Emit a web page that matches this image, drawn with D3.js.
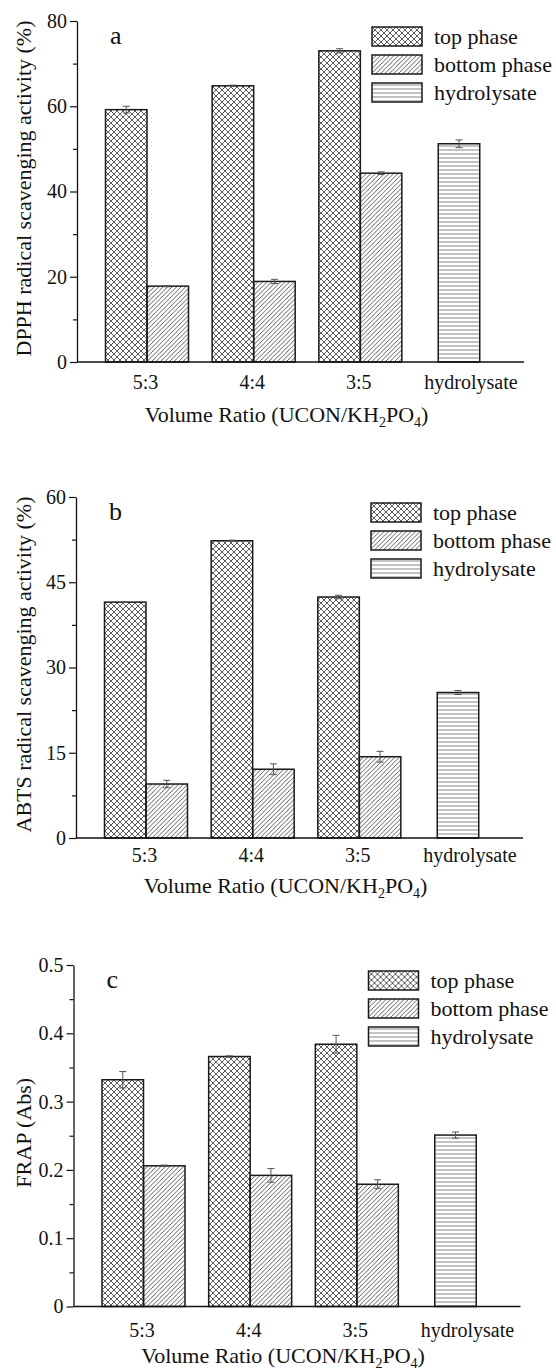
<!DOCTYPE html>
<html>
<head>
<meta charset="utf-8">
<script src="https://cdn.jsdelivr.net/npm/d3@7"></script>
<style>
  html, body { margin: 0; padding: 0; background: #fff; }
  svg { display: block; }
  text { font-family: "Liberation Serif", "Times New Roman", serif; fill: #111; }
</style>
</head>
<body>
<svg id="chart" width="556" height="1372"></svg>
<script>
// ---------- data ----------
const categories = ["5:3", "4:4", "3:5", "hydrolysate"];
const seriesNames = ["top phase", "bottom phase", "hydrolysate"];

const dpphTop = [59.2, 64.8, 73.0];
const dpphTopErr = [0.8, 0.15, 0.5];
const dpphBottom = [17.8, 18.9, 44.3];
const dpphBottomErr = [0.15, 0.5, 0.3];
const dpphHydro = [51.2];
const dpphHydroErr = [0.9];
const dpphTicks = [0, 20, 40, 60, 80];
const dpphMinor = [10, 30, 50, 70];

const abtsTop = [41.5, 52.3, 42.4];
const abtsTopErr = [0.05, 0.1, 0.3];
const abtsBottom = [9.5, 12.1, 14.3];
const abtsBottomErr = [0.65, 0.95, 0.95];
const abtsHydro = [25.6];
const abtsHydroErr = [0.35];
const abtsTicks = [0, 15, 30, 45, 60];
const abtsMinor = [7.5, 22.5, 37.5, 52.5];

const frapTop = [0.332, 0.366, 0.384];
const frapTopErr = [0.012, 0.001, 0.013];
const frapBottom = [0.206, 0.192, 0.179];
const frapBottomErr = [0.001, 0.010, 0.0065];
const frapHydro = [0.251];
const frapHydroErr = [0.0045];
const frapTicks = [0, 0.1, 0.2, 0.3, 0.4, 0.5];
const frapMinor = [0.05, 0.15, 0.25, 0.35, 0.45];

// ---------- layout ----------
const panels = [
  { letter: "a", yTitle: "DPPH radical scavenging activity (%)",
    top: dpphTop, topErr: dpphTopErr, bottom: dpphBottom, bottomErr: dpphBottomErr,
    hydro: dpphHydro, hydroErr: dpphHydroErr, ticks: dpphTicks, minor: dpphMinor,
    fmt: d => d3.format("d")(d),
    yTop: 21, yZero: 362, left: 77, right: 524, labelDy: 27, titleDy: 60 },
  { letter: "b", yTitle: "ABTS radical scavenging activity (%)",
    top: abtsTop, topErr: abtsTopErr, bottom: abtsBottom, bottomErr: abtsBottomErr,
    hydro: abtsHydro, hydroErr: abtsHydroErr, ticks: abtsTicks, minor: abtsMinor,
    fmt: d => d3.format("d")(d),
    yTop: 497, yZero: 838, left: 76, right: 523, labelDy: 24, titleDy: 55 },
  { letter: "c", yTitle: "FRAP (Abs)",
    top: frapTop, topErr: frapTopErr, bottom: frapBottom, bottomErr: frapBottomErr,
    hydro: frapHydro, hydroErr: frapHydroErr, ticks: frapTicks, minor: frapMinor,
    fmt: d => d === 0 ? "0" : d3.format(".1f")(d),
    yTop: 965, yZero: 1306.5, left: 73.5, right: 520.5, labelDy: 30, titleDy: 56 }
];

const svg = d3.select("#chart");
const defs = svg.append("defs");

// patterns
const pCross = defs.append("pattern").attr("id", "pat-cross")
  .attr("patternUnits", "userSpaceOnUse").attr("width", 6).attr("height", 6);
pCross.append("path").attr("d", "M0,0L6,6M6,0L0,6")
  .attr("stroke", "#333").attr("stroke-width", 0.8).attr("fill", "none");

const pDiag = defs.append("pattern").attr("id", "pat-diag")
  .attr("patternUnits", "userSpaceOnUse").attr("width", 4.5).attr("height", 4.5);
pDiag.append("path").attr("d", "M-1,1L1,-1M0,4.5L4.5,0M3.5,5.5L5.5,3.5")
  .attr("stroke", "#333").attr("stroke-width", 0.8).attr("fill", "none");

const pHor = defs.append("pattern").attr("id", "pat-hor")
  .attr("patternUnits", "userSpaceOnUse").attr("width", 6).attr("height", 4);
pHor.append("path").attr("d", "M0,2L6,2")
  .attr("stroke", "#777").attr("stroke-width", 0.9).attr("fill", "none");

const fills = ["url(#pat-cross)", "url(#pat-diag)", "url(#pat-hor)"];
const barW = 41.5;
const hydroShift = -8;

panels.forEach(p => {
  const g = svg.append("g");
  const y = d3.scaleLinear().domain([0, p.ticks[p.ticks.length - 1]]).range([p.yZero, p.yTop]);
  const x = d3.scalePoint().domain(categories).range([p.left + 70, p.right - 57]);

  // bars data
  const bars = [];
  p.top.forEach((v, i) => bars.push({ cat: categories[i], v, e: p.topErr[i], s: 0, x0: x(categories[i]) - barW }));
  p.bottom.forEach((v, i) => bars.push({ cat: categories[i], v, e: p.bottomErr[i], s: 1, x0: x(categories[i]) }));
  p.hydro.forEach((v, i) => bars.push({ cat: categories[3], v, e: p.hydroErr[i], s: 2, x0: x(categories[3]) - barW / 2 + hydroShift }));

  g.selectAll("rect.bar").data(bars).join("rect").attr("class", "bar")
    .attr("x", d => d.x0).attr("width", barW)
    .attr("y", d => y(d.v)).attr("height", d => y(0) - y(d.v))
    .attr("fill", d => fills[d.s]).attr("stroke", "#1a1a1a").attr("stroke-width", 1.5);

  // error bars
  const eg = g.selectAll("g.err").data(bars).join("g").attr("class", "err")
    .attr("stroke", "#555").attr("stroke-width", 1);
  eg.append("line").attr("x1", d => d.x0 + barW / 2).attr("x2", d => d.x0 + barW / 2)
    .attr("y1", d => y(d.v - d.e)).attr("y2", d => y(d.v + d.e));
  eg.append("line").attr("x1", d => d.x0 + barW / 2 - 3.5).attr("x2", d => d.x0 + barW / 2 + 3.5)
    .attr("y1", d => y(d.v + d.e)).attr("y2", d => y(d.v + d.e));
  eg.append("line").attr("x1", d => d.x0 + barW / 2 - 3.5).attr("x2", d => d.x0 + barW / 2 + 3.5)
    .attr("y1", d => y(d.v - d.e)).attr("y2", d => y(d.v - d.e));

  // y axis
  const ya = g.append("g").attr("transform", `translate(${p.left},0)`)
    .call(d3.axisLeft(y).tickValues(p.ticks).tickSize(7).tickSizeOuter(0).tickFormat(p.fmt));
  ya.select(".domain").attr("stroke", "#111").attr("stroke-width", 1.3);
  ya.selectAll(".tick line").attr("stroke", "#111").attr("stroke-width", 1.2);
  ya.selectAll(".tick text").attr("x", -10)
    .style("font-family", '"Liberation Serif", serif').style("font-size", "20px").attr("fill", "#111");
  const ym = g.append("g").attr("transform", `translate(${p.left},0)`)
    .call(d3.axisLeft(y).tickValues(p.minor).tickSize(4).tickFormat(""));
  ym.select(".domain").remove();
  ym.selectAll(".tick line").attr("stroke", "#111").attr("stroke-width", 1.2);

  // x axis line
  g.append("line").attr("x1", p.left).attr("x2", p.right)
    .attr("y1", y(0)).attr("y2", y(0)).attr("stroke", "#111").attr("stroke-width", 1.5);

  // x labels
  g.selectAll("text.xl").data(categories).join("text").attr("class", "xl")
    .attr("x", (d, i) => x(d) + (i === 3 ? 4 : -1.5))
    .attr("y", y(0) + p.labelDy).attr("text-anchor", "middle")
    .style("font-size", "20px").text(d => d);

  // x title with subscripts
  const xt = g.append("text").attr("x", (p.left + p.right) / 2 - 14).attr("y", y(0) + p.titleDy)
    .attr("text-anchor", "middle").style("font-size", "22px");
  xt.append("tspan").text("Volume Ratio (UCON/KH");
  xt.append("tspan").attr("dy", 5).style("font-size", "14px").text("2");
  xt.append("tspan").attr("dy", -5).text("PO");
  xt.append("tspan").attr("dy", 5).style("font-size", "14px").text("4");
  xt.append("tspan").attr("dy", -5).text(")");

  // y title
  g.append("text").attr("transform", `translate(31,${(p.yTop + p.yZero) / 2 - 3}) rotate(-90)`)
    .attr("text-anchor", "middle").style("font-size", "22px").text(p.yTitle);

  // panel letter
  g.append("text").attr("x", p.left + 33).attr("y", p.yTop + 23)
    .style("font-size", "26px").text(p.letter);

  // legend
  const lx = p.right - 152;
  const lg = g.selectAll("g.leg").data(seriesNames).join("g").attr("class", "leg")
    .attr("transform", (d, i) => `translate(${lx},${p.yTop + 6 + i * 28})`);
  lg.append("rect").attr("width", 50).attr("height", 19)
    .attr("fill", (d, i) => fills[i]).attr("stroke", "#1a1a1a").attr("stroke-width", 1.5);
  lg.append("text").attr("x", 62).attr("y", 17).style("font-size", "22px").text(d => d);
});
</script>
</body>
</html>
